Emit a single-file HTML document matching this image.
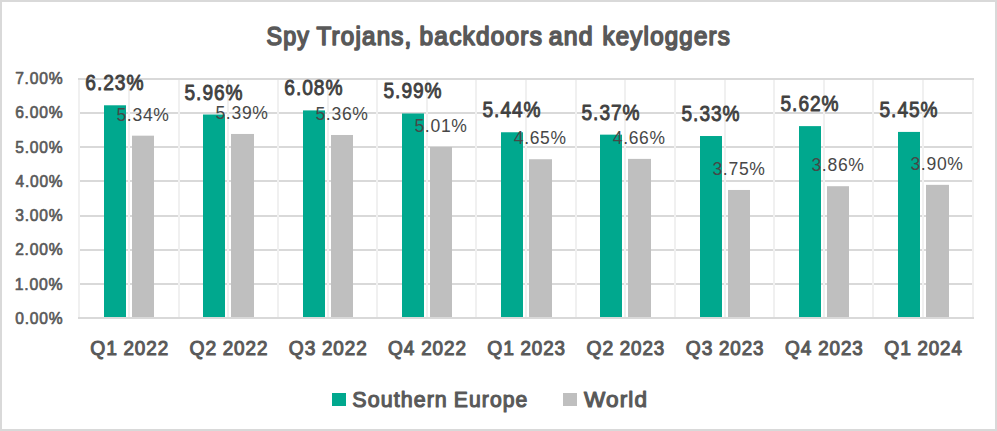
<!DOCTYPE html>
<html><head><meta charset="utf-8"><title>Spy Trojans, backdoors and keyloggers</title>
<style>
html,body{margin:0;padding:0;}
body{width:997px;height:431px;position:relative;overflow:hidden;background:#fff;font-family:"Liberation Sans",sans-serif;}
.frame{position:absolute;left:0;top:0;width:997px;height:431px;box-sizing:border-box;border:2px solid #D9D9D9;}
</style></head><body>
<svg width="997" height="431" viewBox="0 0 997 431" style="position:absolute;left:0;top:0">
<rect x="78" y="317" width="896" height="2" fill="#D9D9D9"/>
<rect x="78" y="283" width="896" height="2" fill="#D9D9D9"/>
<rect x="78" y="249" width="896" height="2" fill="#D9D9D9"/>
<rect x="78" y="215" width="896" height="2" fill="#D9D9D9"/>
<rect x="78" y="180" width="896" height="2" fill="#D9D9D9"/>
<rect x="78" y="146" width="896" height="2" fill="#D9D9D9"/>
<rect x="78" y="112" width="896" height="2" fill="#D9D9D9"/>
<rect x="78" y="78" width="896" height="2" fill="#D9D9D9"/>
<rect x="78" y="80" width="2" height="237" fill="#F0F0F0"/>
<rect x="128" y="80" width="2" height="237" fill="#F0F0F0"/>
<rect x="178" y="80" width="2" height="237" fill="#F0F0F0"/>
<rect x="227" y="80" width="2" height="237" fill="#F0F0F0"/>
<rect x="277" y="80" width="2" height="237" fill="#F0F0F0"/>
<rect x="327" y="80" width="2" height="237" fill="#F0F0F0"/>
<rect x="376" y="80" width="2" height="237" fill="#F0F0F0"/>
<rect x="426" y="80" width="2" height="237" fill="#F0F0F0"/>
<rect x="475" y="80" width="2" height="237" fill="#F0F0F0"/>
<rect x="525" y="80" width="2" height="237" fill="#F0F0F0"/>
<rect x="575" y="80" width="2" height="237" fill="#F0F0F0"/>
<rect x="624" y="80" width="2" height="237" fill="#F0F0F0"/>
<rect x="674" y="80" width="2" height="237" fill="#F0F0F0"/>
<rect x="724" y="80" width="2" height="237" fill="#F0F0F0"/>
<rect x="773" y="80" width="2" height="237" fill="#F0F0F0"/>
<rect x="823" y="80" width="2" height="237" fill="#F0F0F0"/>
<rect x="872" y="80" width="2" height="237" fill="#F0F0F0"/>
<rect x="922" y="80" width="2" height="237" fill="#F0F0F0"/>
<rect x="972" y="80" width="2" height="237" fill="#F0F0F0"/>
<rect x="104" y="105.29" width="22" height="211.71" fill="#00A88E"/>
<rect x="132" y="135.68" width="22" height="181.32" fill="#BFBFBF"/>
<rect x="203" y="114.51" width="22" height="202.49" fill="#00A88E"/>
<rect x="231" y="133.97" width="23" height="183.03" fill="#BFBFBF"/>
<rect x="303" y="110.41" width="22" height="206.59" fill="#00A88E"/>
<rect x="331" y="134.99" width="22" height="182.01" fill="#BFBFBF"/>
<rect x="402" y="113.48" width="22" height="203.52" fill="#00A88E"/>
<rect x="430" y="146.94" width="22" height="170.06" fill="#BFBFBF"/>
<rect x="501" y="132.26" width="22" height="184.74" fill="#00A88E"/>
<rect x="529" y="159.24" width="23" height="157.76" fill="#BFBFBF"/>
<rect x="600" y="134.65" width="22" height="182.35" fill="#00A88E"/>
<rect x="628" y="158.89" width="23" height="158.11" fill="#BFBFBF"/>
<rect x="700" y="136.02" width="22" height="180.98" fill="#00A88E"/>
<rect x="728" y="189.96" width="22" height="127.04" fill="#BFBFBF"/>
<rect x="799" y="126.12" width="22" height="190.88" fill="#00A88E"/>
<rect x="827" y="186.21" width="22" height="130.79" fill="#BFBFBF"/>
<rect x="898" y="131.92" width="22" height="185.08" fill="#00A88E"/>
<rect x="926" y="184.84" width="23" height="132.16" fill="#BFBFBF"/>
<text transform="translate(266.47 44.80) scale(0.9179 1)" font-family="Liberation Sans" font-weight="normal" font-size="25.4" fill="#595959" stroke="#595959" stroke-width="1.651" stroke-linejoin="round" letter-spacing="1.270">Spy</text>
<text transform="translate(316.54 44.80) scale(0.9508 1)" font-family="Liberation Sans" font-weight="normal" font-size="25.4" fill="#595959" stroke="#595959" stroke-width="1.651" stroke-linejoin="round" letter-spacing="1.270">Trojans,</text>
<text transform="translate(419.57 44.80) scale(0.9605 1)" font-family="Liberation Sans" font-weight="normal" font-size="25.4" fill="#595959" stroke="#595959" stroke-width="1.651" stroke-linejoin="round" letter-spacing="1.270">backdoors</text>
<text transform="translate(548.65 44.80) scale(0.9786 1)" font-family="Liberation Sans" font-weight="normal" font-size="25.4" fill="#595959" stroke="#595959" stroke-width="1.651" stroke-linejoin="round" letter-spacing="1.270">and</text>
<text transform="translate(602.48 44.80) scale(0.9486 1)" font-family="Liberation Sans" font-weight="normal" font-size="25.4" fill="#595959" stroke="#595959" stroke-width="1.651" stroke-linejoin="round" letter-spacing="1.270">keyloggers</text>
<text transform="translate(352.37 406.80) scale(0.9522 1)" font-family="Liberation Sans" font-weight="normal" font-size="22.5" fill="#595959" stroke="#595959" stroke-width="1.170" stroke-linejoin="round" letter-spacing="1.125">Southern</text>
<text transform="translate(453.83 406.80) scale(0.9399 1)" font-family="Liberation Sans" font-weight="normal" font-size="22.5" fill="#595959" stroke="#595959" stroke-width="1.170" stroke-linejoin="round" letter-spacing="1.125">Europe</text>
<text transform="translate(584.05 406.80) scale(1.0012 1)" font-family="Liberation Sans" font-weight="normal" font-size="22.5" fill="#595959" stroke="#595959" stroke-width="1.170" stroke-linejoin="round" letter-spacing="1.125">World</text>
<text transform="translate(15.29 324.00) scale(0.9231 1)" font-family="Liberation Sans" font-weight="normal" font-size="16.9" fill="#595959" stroke="#595959" stroke-width="0.676" stroke-linejoin="round" letter-spacing="0.845">0.00%</text>
<text transform="translate(14.65 289.72) scale(0.9356 1)" font-family="Liberation Sans" font-weight="normal" font-size="16.9" fill="#595959" stroke="#595959" stroke-width="0.676" stroke-linejoin="round" letter-spacing="0.845">1.00%</text>
<text transform="translate(15.13 255.43) scale(0.9262 1)" font-family="Liberation Sans" font-weight="normal" font-size="16.9" fill="#595959" stroke="#595959" stroke-width="0.676" stroke-linejoin="round" letter-spacing="0.845">2.00%</text>
<text transform="translate(15.29 221.14) scale(0.9231 1)" font-family="Liberation Sans" font-weight="normal" font-size="16.9" fill="#595959" stroke="#595959" stroke-width="0.676" stroke-linejoin="round" letter-spacing="0.845">3.00%</text>
<text transform="translate(15.60 186.86) scale(0.9170 1)" font-family="Liberation Sans" font-weight="normal" font-size="16.9" fill="#595959" stroke="#595959" stroke-width="0.676" stroke-linejoin="round" letter-spacing="0.845">4.00%</text>
<text transform="translate(15.29 152.57) scale(0.9231 1)" font-family="Liberation Sans" font-weight="normal" font-size="16.9" fill="#595959" stroke="#595959" stroke-width="0.676" stroke-linejoin="round" letter-spacing="0.845">5.00%</text>
<text transform="translate(15.13 118.29) scale(0.9262 1)" font-family="Liberation Sans" font-weight="normal" font-size="16.9" fill="#595959" stroke="#595959" stroke-width="0.676" stroke-linejoin="round" letter-spacing="0.845">6.00%</text>
<text transform="translate(15.13 84.00) scale(0.9262 1)" font-family="Liberation Sans" font-weight="normal" font-size="16.9" fill="#595959" stroke="#595959" stroke-width="0.676" stroke-linejoin="round" letter-spacing="0.845">7.00%</text>
<text transform="translate(90.31 355.00) scale(0.9160 1)" font-family="Liberation Sans" font-weight="normal" font-size="21.1" fill="#595959" stroke="#595959" stroke-width="1.097" stroke-linejoin="round" letter-spacing="1.055">Q1</text>
<text transform="translate(123.42 355.00) scale(0.8950 1)" font-family="Liberation Sans" font-weight="normal" font-size="21.1" fill="#595959" stroke="#595959" stroke-width="1.097" stroke-linejoin="round" letter-spacing="1.055">2022</text>
<text transform="translate(189.56 355.00) scale(0.9160 1)" font-family="Liberation Sans" font-weight="normal" font-size="21.1" fill="#595959" stroke="#595959" stroke-width="1.097" stroke-linejoin="round" letter-spacing="1.055">Q2</text>
<text transform="translate(222.67 355.00) scale(0.8950 1)" font-family="Liberation Sans" font-weight="normal" font-size="21.1" fill="#595959" stroke="#595959" stroke-width="1.097" stroke-linejoin="round" letter-spacing="1.055">2022</text>
<text transform="translate(288.82 355.00) scale(0.9093 1)" font-family="Liberation Sans" font-weight="normal" font-size="21.1" fill="#595959" stroke="#595959" stroke-width="1.097" stroke-linejoin="round" letter-spacing="1.055">Q3</text>
<text transform="translate(321.92 355.00) scale(0.8950 1)" font-family="Liberation Sans" font-weight="normal" font-size="21.1" fill="#595959" stroke="#595959" stroke-width="1.097" stroke-linejoin="round" letter-spacing="1.055">2022</text>
<text transform="translate(388.07 355.00) scale(0.9026 1)" font-family="Liberation Sans" font-weight="normal" font-size="21.1" fill="#595959" stroke="#595959" stroke-width="1.097" stroke-linejoin="round" letter-spacing="1.055">Q4</text>
<text transform="translate(421.17 355.00) scale(0.8950 1)" font-family="Liberation Sans" font-weight="normal" font-size="21.1" fill="#595959" stroke="#595959" stroke-width="1.097" stroke-linejoin="round" letter-spacing="1.055">2022</text>
<text transform="translate(487.31 355.00) scale(0.9160 1)" font-family="Liberation Sans" font-weight="normal" font-size="21.1" fill="#595959" stroke="#595959" stroke-width="1.097" stroke-linejoin="round" letter-spacing="1.055">Q1</text>
<text transform="translate(520.42 355.00) scale(0.8912 1)" font-family="Liberation Sans" font-weight="normal" font-size="21.1" fill="#595959" stroke="#595959" stroke-width="1.097" stroke-linejoin="round" letter-spacing="1.055">2023</text>
<text transform="translate(586.56 355.00) scale(0.9160 1)" font-family="Liberation Sans" font-weight="normal" font-size="21.1" fill="#595959" stroke="#595959" stroke-width="1.097" stroke-linejoin="round" letter-spacing="1.055">Q2</text>
<text transform="translate(619.67 355.00) scale(0.8912 1)" font-family="Liberation Sans" font-weight="normal" font-size="21.1" fill="#595959" stroke="#595959" stroke-width="1.097" stroke-linejoin="round" letter-spacing="1.055">2023</text>
<text transform="translate(685.82 355.00) scale(0.9093 1)" font-family="Liberation Sans" font-weight="normal" font-size="21.1" fill="#595959" stroke="#595959" stroke-width="1.097" stroke-linejoin="round" letter-spacing="1.055">Q3</text>
<text transform="translate(718.92 355.00) scale(0.8912 1)" font-family="Liberation Sans" font-weight="normal" font-size="21.1" fill="#595959" stroke="#595959" stroke-width="1.097" stroke-linejoin="round" letter-spacing="1.055">2023</text>
<text transform="translate(785.07 355.00) scale(0.9026 1)" font-family="Liberation Sans" font-weight="normal" font-size="21.1" fill="#595959" stroke="#595959" stroke-width="1.097" stroke-linejoin="round" letter-spacing="1.055">Q4</text>
<text transform="translate(818.17 355.00) scale(0.8912 1)" font-family="Liberation Sans" font-weight="normal" font-size="21.1" fill="#595959" stroke="#595959" stroke-width="1.097" stroke-linejoin="round" letter-spacing="1.055">2023</text>
<text transform="translate(884.31 355.00) scale(0.9160 1)" font-family="Liberation Sans" font-weight="normal" font-size="21.1" fill="#595959" stroke="#595959" stroke-width="1.097" stroke-linejoin="round" letter-spacing="1.055">Q1</text>
<text transform="translate(917.43 355.00) scale(0.8874 1)" font-family="Liberation Sans" font-weight="normal" font-size="21.1" fill="#595959" stroke="#595959" stroke-width="1.097" stroke-linejoin="round" letter-spacing="1.055">2024</text>
<text transform="translate(85.32 90.29) scale(0.8726 1)" font-family="Liberation Sans" font-weight="normal" font-size="22.0" fill="#404040" stroke="#404040" stroke-width="0.880" stroke-linejoin="round" letter-spacing="1.100">6.23%</text>
<text transform="translate(116.40 120.68) scale(0.9760 1)" font-family="Liberation Sans" font-weight="normal" font-size="18.0" fill="#474747" letter-spacing="0.720">5.34%</text>
<text transform="translate(184.52 99.51) scale(0.8697 1)" font-family="Liberation Sans" font-weight="normal" font-size="22.0" fill="#404040" stroke="#404040" stroke-width="0.880" stroke-linejoin="round" letter-spacing="1.100">5.96%</text>
<text transform="translate(215.40 118.97) scale(0.9760 1)" font-family="Liberation Sans" font-weight="normal" font-size="18.0" fill="#474747" letter-spacing="0.720">5.39%</text>
<text transform="translate(284.32 95.41) scale(0.8726 1)" font-family="Liberation Sans" font-weight="normal" font-size="22.0" fill="#404040" stroke="#404040" stroke-width="0.880" stroke-linejoin="round" letter-spacing="1.100">6.08%</text>
<text transform="translate(315.40 119.99) scale(0.9760 1)" font-family="Liberation Sans" font-weight="normal" font-size="18.0" fill="#474747" letter-spacing="0.720">5.36%</text>
<text transform="translate(383.52 98.48) scale(0.8697 1)" font-family="Liberation Sans" font-weight="normal" font-size="22.0" fill="#404040" stroke="#404040" stroke-width="0.880" stroke-linejoin="round" letter-spacing="1.100">5.99%</text>
<text transform="translate(414.40 131.94) scale(0.9760 1)" font-family="Liberation Sans" font-weight="normal" font-size="18.0" fill="#474747" letter-spacing="0.720">5.01%</text>
<text transform="translate(482.52 117.26) scale(0.8697 1)" font-family="Liberation Sans" font-weight="normal" font-size="22.0" fill="#404040" stroke="#404040" stroke-width="0.880" stroke-linejoin="round" letter-spacing="1.100">5.44%</text>
<text transform="translate(513.75 144.24) scale(0.9694 1)" font-family="Liberation Sans" font-weight="normal" font-size="18.0" fill="#474747" letter-spacing="0.720">4.65%</text>
<text transform="translate(581.52 119.65) scale(0.8697 1)" font-family="Liberation Sans" font-weight="normal" font-size="22.0" fill="#404040" stroke="#404040" stroke-width="0.880" stroke-linejoin="round" letter-spacing="1.100">5.37%</text>
<text transform="translate(612.75 143.89) scale(0.9694 1)" font-family="Liberation Sans" font-weight="normal" font-size="18.0" fill="#474747" letter-spacing="0.720">4.66%</text>
<text transform="translate(681.52 121.02) scale(0.8697 1)" font-family="Liberation Sans" font-weight="normal" font-size="22.0" fill="#404040" stroke="#404040" stroke-width="0.880" stroke-linejoin="round" letter-spacing="1.100">5.33%</text>
<text transform="translate(712.40 174.96) scale(0.9760 1)" font-family="Liberation Sans" font-weight="normal" font-size="18.0" fill="#474747" letter-spacing="0.720">3.75%</text>
<text transform="translate(780.52 111.12) scale(0.8697 1)" font-family="Liberation Sans" font-weight="normal" font-size="22.0" fill="#404040" stroke="#404040" stroke-width="0.880" stroke-linejoin="round" letter-spacing="1.100">5.62%</text>
<text transform="translate(811.40 171.21) scale(0.9760 1)" font-family="Liberation Sans" font-weight="normal" font-size="18.0" fill="#474747" letter-spacing="0.720">3.86%</text>
<text transform="translate(879.52 116.92) scale(0.8697 1)" font-family="Liberation Sans" font-weight="normal" font-size="22.0" fill="#404040" stroke="#404040" stroke-width="0.880" stroke-linejoin="round" letter-spacing="1.100">5.45%</text>
<text transform="translate(910.40 169.84) scale(0.9760 1)" font-family="Liberation Sans" font-weight="normal" font-size="18.0" fill="#474747" letter-spacing="0.720">3.90%</text>
<rect x="332" y="393" width="14" height="13" fill="#00A88E"/>
<rect x="563" y="393" width="14" height="13" fill="#BFBFBF"/>
</svg>
<div class="frame"></div>
</body></html>
